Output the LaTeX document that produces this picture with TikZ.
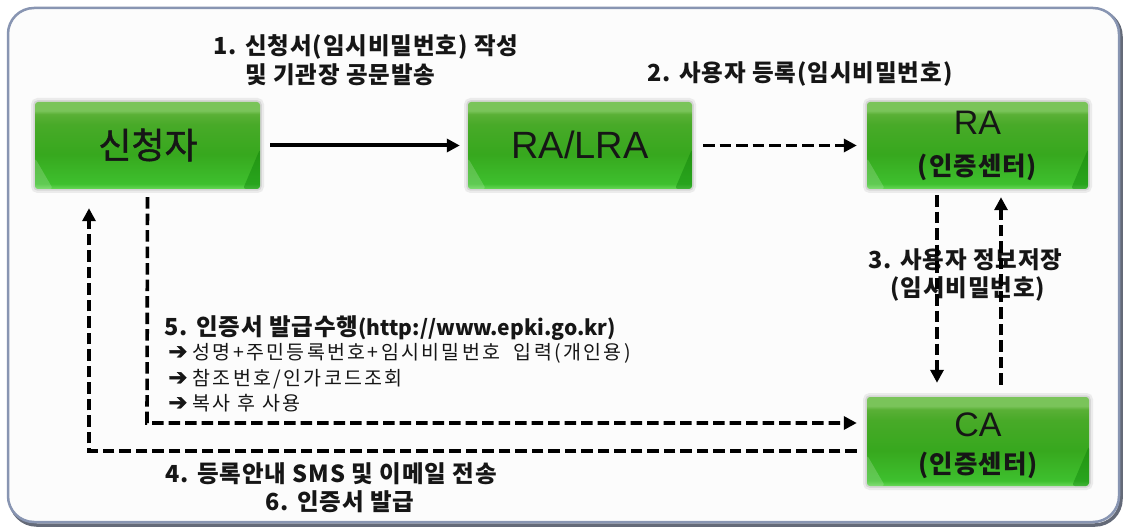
\documentclass[tikz,border=0pt]{standalone}
\usepackage{fontspec}
\setmainfont{Liberation Sans}
\newfontfamily\kr{Noto Sans CJK KR}
\newfontfamily\krbox[FakeBold=1.2]{Noto Sans CJK KR}
\newfontfamily\krlab[LetterSpace=4]{Noto Sans CJK KR}
\newfontfamily\krsub[LetterSpace=12]{Noto Sans CJK KR}
\newfontfamily\sym[FakeBold=2]{DejaVu Sans}
\usetikzlibrary{arrows.meta,calc}

\definecolor{gTop}{RGB}{122,196,90}
\definecolor{gUp}{RGB}{90,176,54}
\definecolor{gMidB}{RGB}{72,170,40}
\definecolor{gMid}{RGB}{55,168,30}
\definecolor{gLow}{RGB}{62,192,46}
\definecolor{gBot}{RGB}{104,216,88}
\definecolor{frameline}{RGB}{136,149,178}
\definecolor{frameshadow}{RGB}{100,106,120}
\definecolor{ink}{RGB}{22,22,22}

% glossy green box shading (bottom = 25bp, top = 75bp)
\pgfdeclareverticalshading{gboxshade}{100bp}{%
  color(0bp)=(gBot); color(25bp)=(gBot); color(28bp)=(gLow);
  color(45bp)=(gMid); color(62bp)=(gMidB); color(68bp)=(gUp);
  color(70bp)=(gTop); color(75bp)=(gTop); color(100bp)=(gTop)}

\tikzset{
  gbox/.style={rectangle, rounded corners=3pt, inner sep=0pt,
    minimum width=#1, minimum height=87pt, shading=gboxshade,
    preaction={draw=black!8, line width=8pt},
    preaction={draw=black!16, line width=3.5pt},
    path picture={
      \fill[white, opacity=0.18] (path picture bounding box.south west)
        -- ++(0pt,31pt) -- ++(18pt,-31pt) -- cycle;
      \fill[green!45!black, opacity=0.35] (path picture bounding box.south east)
        -- ++(0pt,40pt) -- ++(-17pt,-40pt) -- cycle;
    }},
  gbox/.default=222pt,
  boxkr/.style={font=\krbox\fontsize{36}{36}\selectfont, text=ink, inner sep=0pt},
  boxlat/.style={font=\fontsize{38}{38}\selectfont, text=ink, inner sep=0pt},
  boxlats/.style={font=\fontsize{34}{34}\selectfont, text=ink, inner sep=0pt},
  boxsub/.style={font=\krlab\bfseries\fontsize{25.5}{25.5}\selectfont, text=ink, inner sep=0pt},
  lbl/.style={font=\krlab\bfseries\fontsize{23.5}{23.5}\selectfont, text=ink, inner sep=0pt, anchor=base west},
  sub/.style={font=\krsub\fontsize{19.5}{19.5}\selectfont, text=ink, inner sep=0pt, anchor=base west},
  tip/.style={-{Triangle[length=13pt,width=13pt]}},
  solidline/.style={line width=4pt, tip},
  dline/.style={line width=3.6pt, dash pattern=on 11.5pt off 5pt, tip},
}
\newcommand{\bul}{{\sym\fontsize{23}{23}\selectfont ➔}\hspace{5pt}}

\begin{document}
\begin{tikzpicture}[x=1pt, y=-1pt]
\useasboundingbox (0,0) rectangle (1124,529);
\fill[white] (0,0) rectangle (1124,529);

% outer panel with shadow
\draw[frameshadow, line width=3.5pt, rounded corners=26pt] (10.5,10.5) rectangle (1121,525);
\draw[frameline, fill=white!98!gray, line width=2.5pt, rounded corners=26pt] (8,8) rectangle (1119,522);

% boxes
\node[gbox=225pt] (a)  at (147.5,145.5) {};
\node[gbox=224pt] (b)  at (580,145.5) {};
\node[gbox=221pt] (ra) at (977.5,145.5) {};
\node[gbox=222pt, minimum height=89pt] (ca) at (978,441.5) {};

\node[boxkr]   (a-t)   at (148,145) {신청자};
\node[boxlat]  (b-t)   at (580,145) {RA/LRA};
\node[boxlats] (ra-t1) at (977.5,123) {RA};
\node[boxsub]  (ra-t2) at (977.5,167) {(인증센터)};
\node[boxlats] (ca-t1) at (978,425) {CA};
\node[boxsub]  (ca-t2) at (978,465) {(인증센터)};

% labels
\node[lbl] (t1a) at (213,55) {1. 신청서(임시비밀번호) 작성};
\node[lbl] (t1b) at (245,84) {및 기관장 공문발송};
\node[lbl] (t2)  at (647,82) {2. 사용자 등록(임시비밀번호)};
\node[lbl] (t3a) at (868,269) {3. 사용자 정보저장};
\node[lbl] (t3b) at (890,297) {(임시비밀번호)};
\node[lbl] (t5)  at (164,335) {5. 인증서 발급수행{\kr\fontsize{21}{21}\selectfont(http://www.epki.go.kr)}};
\node[sub] (b1)  at (168,359) {\bul 성명+주민등록번호+임시비밀번호\ \ 입력(개인용)};
\node[sub] (b2)  at (168,385) {\bul 참조번호/인가코드조회};
\node[sub] (b3)  at (168,410) {\bul 복사 후 사용};
\node[lbl] (t4)  at (165,482) {4. 등록안내 SMS 및 이메일 전송};
\node[lbl] (t6)  at (265,510) {6. 인증서 발급};

% connectors
\coordinate (c4) at (89,451);
\coordinate (c5) at (147,423);

\draw[solidline] ([xshift=10pt]a.east) -- ([xshift=-8pt]b.west);
\draw[dline] ([xshift=11pt]b.east) -- ([xshift=-10pt]ra.west);
\draw[dline] ([xshift=-40.5pt,yshift=-6pt]ra.south) -- ([xshift=-41pt,yshift=14pt]ca.north);
\draw[dline] ([xshift=23pt,yshift=12pt]ca.north) -- ([xshift=23.5pt,yshift=-8pt]ra.south);
\draw[dline] ([yshift=-8pt]a.south) -- (c5) -- ([xshift=-10pt]ca.west |- c5);
\draw[dline] ([xshift=-10pt]ca.west |- c4) -- (c4) -- ([yshift=-19pt]a.south -| c4);
\end{tikzpicture}
\end{document}
